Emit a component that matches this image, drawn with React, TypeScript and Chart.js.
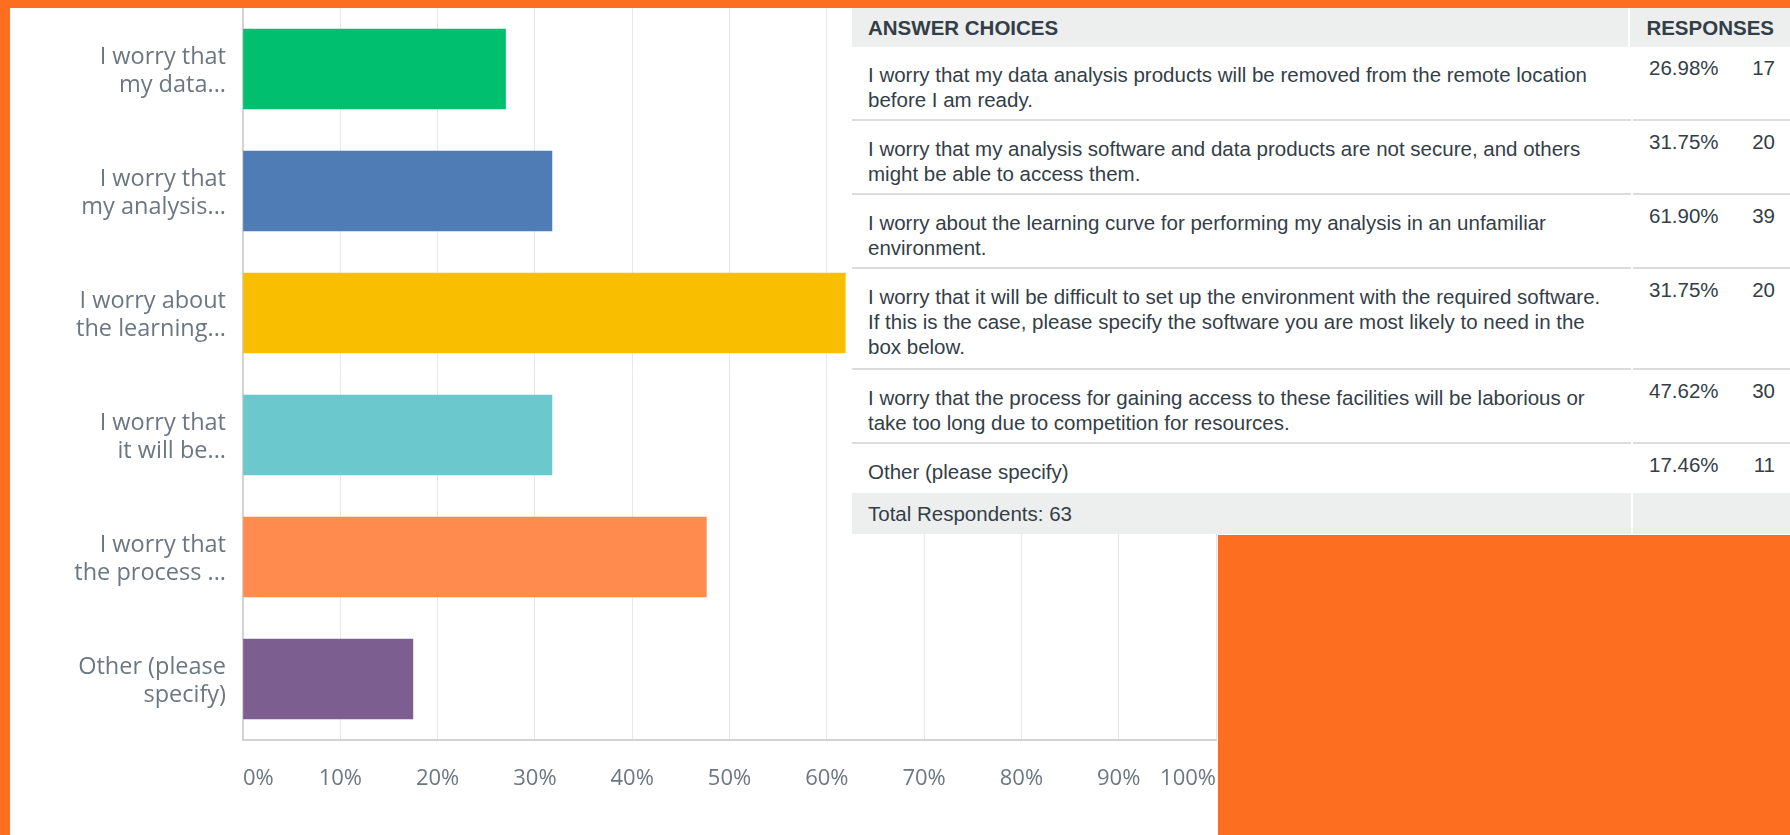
import React, { useEffect, useRef } from "react";
import { Chart, registerables } from "chart.js";

Chart.register(...registerables);

// ---- data ----
const categoryLabels: string[][] = [
  ["I worry that", "my data..."],
  ["I worry that", "my analysis..."],
  ["I worry about", "the learning..."],
  ["I worry that", "it will be..."],
  ["I worry that", "the process ..."],
  ["Other (please", "specify)"],
];
const percentValues: number[] = [26.98, 31.75, 61.9, 31.75, 47.62, 17.46];
const percentTexts: string[] = ["26.98%", "31.75%", "61.90%", "31.75%", "47.62%", "17.46%"];
const responseCounts: number[] = [17, 20, 39, 20, 30, 11];
const barColors: string[] = ["#00BF6F", "#507CB6", "#F9BE00", "#6BC8CD", "#FF8B4F", "#7D5E90"];
const xTickLabels: string[] = ["0%", "10%", "20%", "30%", "40%", "50%", "60%", "70%", "80%", "90%", "100%"];
const answerLines: string[][] = [
  ["I worry that my data analysis products will be removed from the remote location", "before I am ready."],
  ["I worry that my analysis software and data products are not secure, and others", "might be able to access them."],
  ["I worry about the learning curve for performing my analysis in an unfamiliar", "environment."],
  [
    "I worry that it will be difficult to set up the environment with the required software.",
    "If this is the case, please specify the software you are most likely to need in the",
    "box below.",
  ],
  ["I worry that the process for gaining access to these facilities will be laborious or", "take too long due to competition for resources."],
  ["Other (please specify)"],
];
const headerLabels: string[] = ["ANSWER CHOICES", "RESPONSES"];
const totalRespondentsText = "Total Respondents: 63";

const ORANGE = "#FE6E20";
const TEXT = "#333E48";
const TICK = "#6B7781";
const SEP = "#DADCDD";
const HEAD_BG = "#EDEEEE";

function BarChart() {
  const ref = useRef<HTMLCanvasElement | null>(null);
  useEffect(() => {
    if (!ref.current) return;
    const chart = new Chart(ref.current, {
      type: "bar",
      data: {
        labels: categoryLabels,
        datasets: [
          {
            data: percentValues,
            backgroundColor: barColors,
            borderWidth: 0,
            barThickness: 80,
          },
        ],
      },
      options: {
        indexAxis: "y",
        responsive: false,
        animation: false,
        layout: { padding: { top: 0, right: 2, bottom: 0, left: 0 } },
        plugins: { legend: { display: false }, tooltip: { enabled: false } },
        scales: {
          x: {
            type: "linear",
            min: 0,
            max: 100,
            ticks: {
              stepSize: 10,
              autoSkip: false,
              maxRotation: 0,
              align: "inner",
              padding: 26,
              color: TICK,
              font: { family: "'Open Sans', sans-serif", size: 22 },
              callback: (_v: any, i: number) => xTickLabels[i],
            },
            grid: { color: "#E8E8E8", lineWidth: 1, drawTicks: false },
            border: { display: true, color: "#D3D3D3", width: 2 },
            afterFit: (s: any) => {
              s.height = 95;
              s.paddingLeft = 0;
              s.paddingRight = 0;
            },
          },
          y: {
            ticks: {
              padding: 17,
              labelOffset: 2,
              color: TICK,
              font: { family: "'Open Sans', sans-serif", size: 23.5, lineHeight: "28px" },
            },
            grid: { display: false, drawTicks: false },
            border: { display: true, color: "#D3D3D3", width: 2 },
            afterFit: (s: any) => {
              s.width = 233;
              s.paddingTop = 0;
              s.paddingBottom = 0;
            },
          },
        },
      } as any,
    });
    return () => chart.destroy();
  }, []);
  return (
    <canvas
      ref={ref}
      width={1208}
      height={827}
      style={{ position: "absolute", left: 10, top: 8, width: 1208, height: 827 }}
    />
  );
}

function ResultsTable() {
  const cellFont: React.CSSProperties = {
    fontFamily: "'Liberation Sans', Arial, sans-serif",
    fontSize: 20.5,
    lineHeight: "25px",
    color: TEXT,
    whiteSpace: "nowrap",
  };
  return (
    <div
      style={{
        position: "absolute",
        left: 852,
        top: 8,
        width: 938,
        overflow: "hidden",
        background: "#fff",
        ...cellFont,
      }}
    >
      {/* header */}
      <div style={{ display: "flex", height: 39 }}>
        <div
          style={{
            width: 779,
            background: HEAD_BG,
            padding: "0 16px",
            boxSizing: "border-box",
            display: "flex",
            alignItems: "center",
            fontWeight: 700,
          }}
        >
          {headerLabels[0]}
        </div>
        <div
          style={{
            marginLeft: 2,
            flex: 1,
            background: HEAD_BG,
            padding: "0 16px",
            display: "flex",
            alignItems: "center",
            fontWeight: 700,
          }}
        >
          {headerLabels[1]}
        </div>
      </div>
      {answerLines.map((lines, i) => (
        <div key={i} style={{ display: "flex" }}>
          <div
            style={{
              width: 779,
              boxSizing: "border-box",
              padding: lines.length === 3 ? "15px 16px 9px 16px" : "15px 16px 7px 16px",
              borderBottom: `2px solid ${i === answerLines.length - 1 ? "transparent" : SEP}`,
            }}
          >
            {lines.map((l, j) => (
              <div key={j}>{l}</div>
            ))}
          </div>
          <div
            style={{
              marginLeft: 2,
              flex: 1,
              padding: "8px 15px 0 16px",
              display: "flex",
              justifyContent: "space-between",
              alignItems: "flex-start",
              borderBottom: `2px solid ${i === answerLines.length - 1 ? "transparent" : SEP}`,
            }}
          >
            <span>{percentTexts[i]}</span>
            <span>{responseCounts[i]}</span>
          </div>
        </div>
      ))}
      {/* total row */}
      <div style={{ display: "flex", height: 41 }}>
        <div
          style={{
            width: 779,
            background: HEAD_BG,
            padding: "0 16px",
            boxSizing: "border-box",
            display: "flex",
            alignItems: "center",
          }}
        >
          {totalRespondentsText}
        </div>
        <div style={{ marginLeft: 2, flex: 1, background: HEAD_BG }} />
      </div>
    </div>
  );
}

export default function App() {
  return (
    <div
      style={{
        position: "fixed",
        left: 0,
        top: 0,
        width: 1790,
        height: 835,
        overflow: "hidden",
        background: ORANGE,
      }}
    >
      <div
        style={{
          position: "absolute",
          left: 10,
          top: 8,
          right: 0,
          bottom: 0,
          background: "#fff",
        }}
      />
      <BarChart />
      <ResultsTable />
      <div
        style={{
          position: "absolute",
          left: 1218,
          top: 535,
          right: 0,
          bottom: 0,
          background: ORANGE,
        }}
      />
    </div>
  );
}
